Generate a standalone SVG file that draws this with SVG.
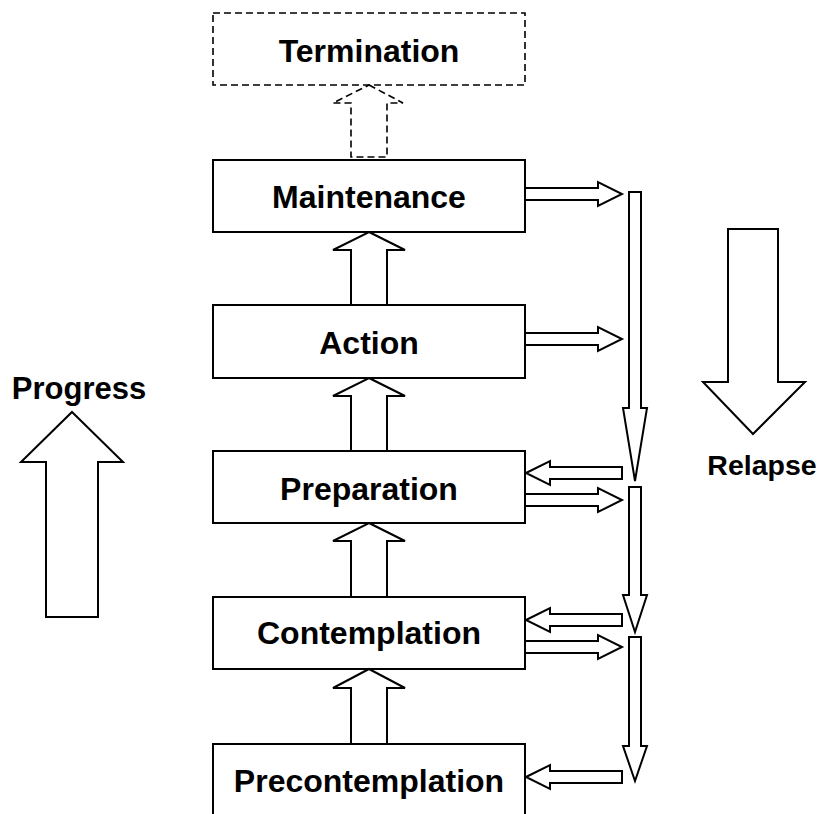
<svg xmlns="http://www.w3.org/2000/svg" width="820" height="814" viewBox="0 0 820 814">
<style>
.box{fill:#fff;stroke:#000;stroke-width:2}
.dash{fill:#fff;stroke:#000;stroke-width:1.6;stroke-dasharray:7 4}
.arr{fill:#fff;stroke:#000;stroke-width:2;stroke-linejoin:miter}
.lbl{font-family:"Liberation Sans",Arial,Helvetica,sans-serif;font-weight:bold;font-size:32px;text-anchor:middle;fill:#000}
</style>
<rect width="820" height="814" fill="#fff"/>
<g id="termination">
<rect class="dash" x="213" y="13" width="312" height="72"/>
<text class="lbl" x="369" y="62">Termination</text>
</g>
<g id="maintenance">
<rect class="box" x="213" y="160" width="312" height="72"/>
<text class="lbl" x="369" y="208">Maintenance</text>
</g>
<g id="action">
<rect class="box" x="213" y="305" width="312" height="73"/>
<text class="lbl" x="369" y="354">Action</text>
</g>
<g id="preparation">
<rect class="box" x="213" y="451" width="312" height="72"/>
<text class="lbl" x="369" y="500">Preparation</text>
</g>
<g id="contemplation">
<rect class="box" x="213" y="597" width="312" height="72"/>
<text class="lbl" x="369" y="644">Contemplation</text>
</g>
<g id="precontemplation">
<rect class="box" x="213" y="744" width="312" height="80"/>
<text class="lbl" x="369" y="792">Precontemplation</text>
</g>
<g id="progress">
<polygon class="arr" points="72,412 123,462 98,462 98,617 46,617 46,462 21,462"/>
<text class="lbl" x="79" y="399" style="font-size:31px">Progress</text>
</g>
<g id="relapse">
<polygon class="arr" points="728,229 778,229 778,382 805,382 753,434 703,382 728,382"/>
<text class="lbl" x="762" y="475" style="font-size:28.5px">Relapse</text>
</g>
<g id="connectors">
<polygon class="dash" points="369,85 403,103 387,103 387,157 351,157 351,103 333,103"/>
<polygon class="arr" points="369,232 405,250 387,250 387,305 351,305 351,250 333,250"/>
<polygon class="arr" points="369,378 405,396 387,396 387,451 351,451 351,396 333,396"/>
<polygon class="arr" points="369,523 405,541 387,541 387,597 351,597 351,541 333,541"/>
<polygon class="arr" points="369,669 405,688 387,688 387,744 351,744 351,688 333,688"/>
<polygon class="arr" points="525,188 598,188 598,182 622,194 598,206 598,200 525,200"/>
<polygon class="arr" points="525,333 598,333 598,327 622,339 598,351 598,345 525,345"/>
<polygon class="arr" points="525,494 598,494 598,488 622,500 598,512 598,506 525,506"/>
<polygon class="arr" points="525,641 598,641 598,635 622,647 598,659 598,653 525,653"/>
<polygon class="arr" points="526,473 550,461 550,467 622,467 622,479 550,479 550,485"/>
<polygon class="arr" points="526,620 550,608 550,614 622,614 622,626 550,626 550,632"/>
<polygon class="arr" points="526,777 550,765 550,771 622,771 622,783 550,783 550,789"/>
<polygon class="arr" points="629,192 641,192 641,408 647,408 635,481 623,408 629,408"/>
<polygon class="arr" points="629,487 641,487 641,595 647,595 635,632 623,595 629,595"/>
<polygon class="arr" points="629,637 641,637 641,746 647,746 635,781 623,746 629,746"/>
</g>
</svg>
